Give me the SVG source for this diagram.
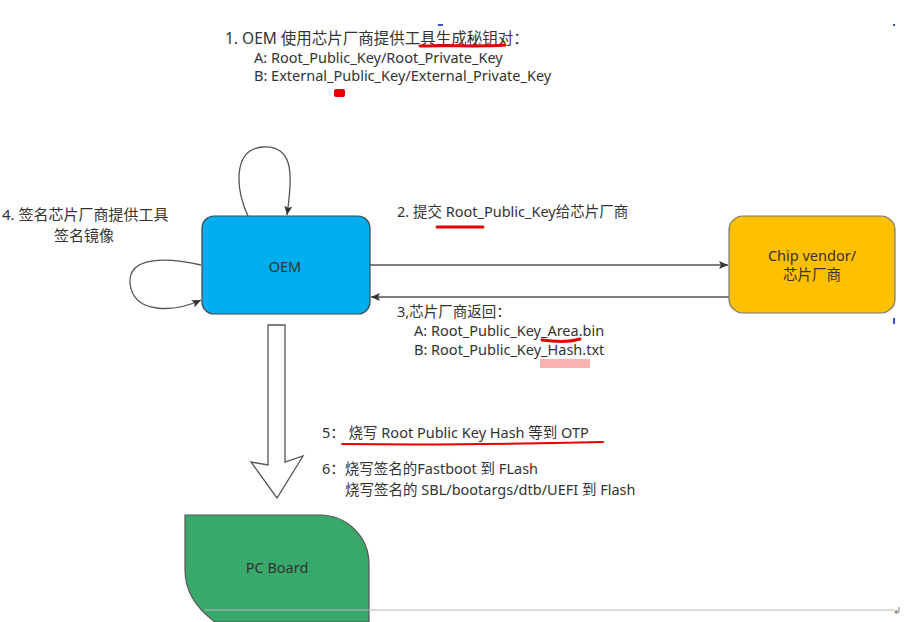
<svg xmlns="http://www.w3.org/2000/svg" width="909" height="622" viewBox="0 0 909 622">
<defs>
<style>
text{font-family:"Noto Sans","Noto Sans CJK SC",sans-serif;font-size:14.5px;fill:#333}
.c{text-anchor:middle}
.line{fill:none;stroke:#555;stroke-width:1.3}
.red{fill:none;stroke:#e60000;stroke-width:3;stroke-linecap:round}
</style>
<marker id="ah" markerWidth="10" markerHeight="10" refX="9" refY="5" orient="auto" markerUnits="userSpaceOnUse">
<path d="M0,1 L9,5 L0,9 L2,5 Z" fill="#333"/>
</marker>
</defs>
<rect width="909" height="622" fill="#fff"/>

<g id="connectors">
<line class="line" x1="370" y1="265" x2="728" y2="265" marker-end="url(#ah)"/>
<line class="line" x1="729" y1="297" x2="371" y2="297" marker-end="url(#ah)"/>
<path class="line" d="M248,216 C236,190 232,150 262,147 C296,144 292,180 287,215" marker-end="url(#ah)"/>
<path class="line" d="M201,265 C170,258 128,255 130,283 C133,315 175,312 201,300" marker-end="url(#ah)"/>
<path d="M268,325 H285 V462 L303,456 L277,498 L251,462 L268,465 Z" fill="#fff" stroke="#555" stroke-width="1.3"/>
</g>

<g id="oem">
<rect x="202" y="216" width="168" height="98" rx="12" fill="#00aeef" stroke="#444" stroke-width="1.2"/>
<text class="c" x="285" y="272">OEM</text>
</g>

<g id="chip-vendor">
<rect x="729" y="216" width="166" height="97" rx="14" fill="#ffc000" stroke="#777" stroke-width="1.2"/>
<text class="c" x="812" y="261">Chip vendor/</text>
<text class="c" x="812" y="280">芯片厂商</text>
</g>

<g id="pc-board">
<path d="M185,515 H320 A49,49 0 0 1 369,564 V622 H215 Q185,600 185,570 Z" fill="#38a96b" stroke="#555" stroke-width="1.2"/>
<text class="c" x="277" y="573">PC Board</text>
</g>

<g id="notes">
<text x="225" y="44" style="font-size:15.5px">1. OEM 使用芯片厂商提供工具生成秘钥对：</text>
<text x="254" y="63">A: Root_Public_Key/Root_Private_Key</text>
<text x="254" y="81">B: External_Public_Key/External_Private_Key</text>
<path class="red" d="M420,46 C450,45 480,47 505,45"/>
<rect x="334" y="89" width="11" height="8" rx="2" fill="#e60000"/>
<rect x="438" y="24" width="5" height="2" fill="#3355cc"/>
<rect x="893" y="24" width="2" height="2" fill="#3355cc"/>
<rect x="893" y="318" width="2" height="6" fill="#3355cc"/>

<text x="2" y="220" style="font-size:15px">4. 签名芯片厂商提供工具</text>
<text class="c" x="84" y="241" style="font-size:15px">签名镜像</text>

<text x="397" y="217">2. 提交 Root_Public_Key给芯片厂商</text>
<path class="red" d="M437,227 H483"/>

<text x="397" y="317">3,芯片厂商返回：</text>
<text x="414" y="336">A: Root_Public_Key_Area.bin</text>
<text x="414" y="355">B: Root_Public_Key_Hash.txt</text>
<path class="red" d="M542,340 C556,342 570,342 580,339"/>
<rect x="540" y="359" width="50" height="9" fill="#f8a0a0" opacity="0.8"/>

<text x="322" y="438">5：  烧写 Root Public Key Hash 等到 OTP</text>
<path d="M342,444 C420,445 520,444 603,442" fill="none" stroke="#e60000" stroke-width="2" stroke-linecap="round"/>
<text x="322" y="474">6：烧写签名的Fastboot 到 FLash</text>
<text x="345" y="495">烧写签名的 SBL/bootargs/dtb/UEFI 到 Flash</text>

<line x1="205" y1="610" x2="895" y2="610" stroke="#bbb" stroke-width="1.2"/>
<text x="893" y="614" style="font-size:10px;fill:#777">↲</text>
</g>
</svg>
